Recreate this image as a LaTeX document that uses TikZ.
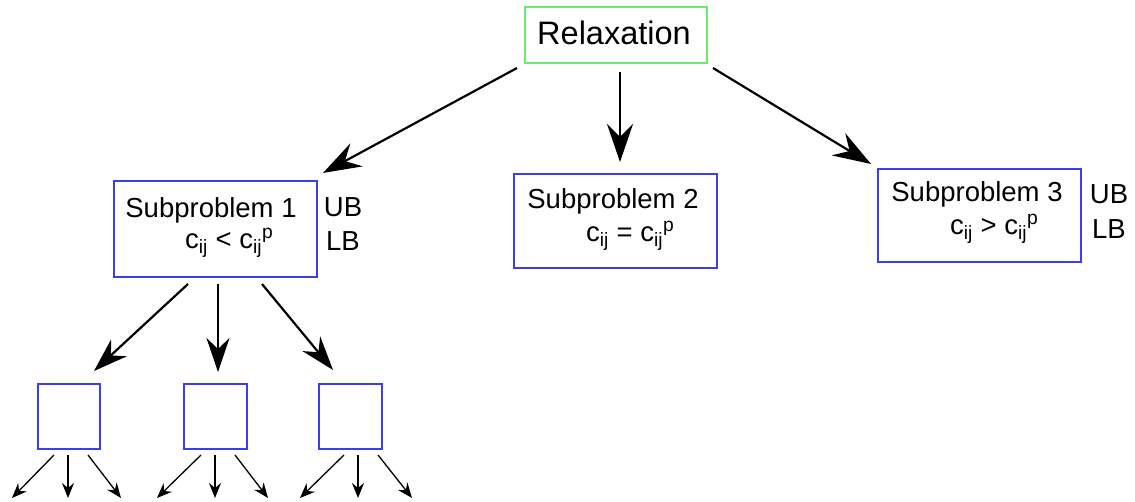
\documentclass[tikz,border=0pt]{standalone}
\usepackage{fontspec}
\setmainfont{Liberation Sans}
\usetikzlibrary{arrows.meta}
\definecolor{boxblue}{RGB}{60,60,245}
\definecolor{boxgreen}{RGB}{110,235,110}
\tikzset{
  bluebox/.style={draw=boxblue, line width=2pt, inner sep=0pt},
  smallbox/.style={draw=boxblue, line width=2.6pt, inner sep=0pt},
  greenbox/.style={draw=boxgreen, line width=1.6pt, inner sep=0pt},
  bigarrow/.style={line width=2.2pt, -{Stealth[length=38pt,width=26pt,inset=13pt]}},
  midarrow/.style={line width=2.2pt, -{Stealth[length=34pt,width=23pt,inset=11pt]}},
  smallarrow/.style={line width=1.3pt, -{Stealth[length=15pt,width=12pt,inset=5pt]}},
  lbl/.style={inner sep=0pt, font=\fontsize{27.5}{30}\selectfont},
}
\begin{document}
\begin{tikzpicture}[x=1pt,y=-1pt]
\useasboundingbox (0,0) rectangle (1135,502);
% boxes
\node[greenbox, minimum width=182pt, minimum height=56pt] (relax) at (616,35) {};
\node[bluebox, minimum width=203pt, minimum height=96pt] (s1) at (215.5,229) {};
\node[bluebox, minimum width=203pt, minimum height=94pt] (s2) at (615.5,221) {};
\node[bluebox, minimum width=203pt, minimum height=93pt] (s3) at (979.5,215.5) {};
\node[smallbox, minimum width=62pt, minimum height=65pt] (b1) at (69,416.5) {};
\node[smallbox, minimum width=63pt, minimum height=65pt] (b2) at (215.5,416.5) {};
\node[smallbox, minimum width=63pt, minimum height=65pt] (b3) at (350.5,416.5) {};
% texts
\node[lbl, font=\fontsize{32.5}{36}\selectfont] (trelax) at (614,33) {Relaxation};
\node[lbl] (ts1) at (211,210) {Subproblem 1};
\node[lbl, anchor=west] (cs1) at (185,243) {c\textsubscript{ij} < c\textsubscript{ij}\textsuperscript{p}};
\node[lbl] (ub1) at (343,207) {UB};
\node[lbl] (lb1) at (343,241) {LB};
\node[lbl] (ts2) at (613,201) {Subproblem 2};
\node[lbl, anchor=west] (cs2) at (586,236) {c\textsubscript{ij} = c\textsubscript{ij}\textsuperscript{p}};
\node[lbl] (ts3) at (977,194) {Subproblem 3};
\node[lbl, anchor=west] (cs3) at (950,229) {c\textsubscript{ij} > c\textsubscript{ij}\textsuperscript{p}};
\node[lbl] (ub3) at (1109,194) {UB};
\node[lbl] (lb3) at (1109,229) {LB};
% connector end points
\coordinate (r1) at (517,68);
\coordinate (r2) at (620,72);
\coordinate (r3) at (713,68);
\coordinate (e1) at (323,173);
\coordinate (e2) at (620,162);
\coordinate (e3) at (871,164);
\draw[bigarrow] (r1) -- (e1);
\draw[bigarrow] (r2) -- (e2);
\draw[bigarrow] (r3) -- (e3);
\coordinate (p1) at (188,284);
\coordinate (p2) at (218,284);
\coordinate (p3) at (262,284);
\coordinate (q1) at (94,371);
\coordinate (q2) at (218,372);
\coordinate (q3) at (333,370);
\draw[midarrow] (p1) -- (q1);
\draw[midarrow] (p2) -- (q2);
\draw[midarrow] (p3) -- (q3);
% small arrows
\foreach \n/\a/\b/\c in {b1/54/68/88, b2/201/215/235, b3/344/358/378}{
  \coordinate (\n l) at (\a,455);
  \coordinate (\n m) at (\b,455);
  \coordinate (\n r) at (\c,455);
}
\coordinate (b1L) at (12,498);
\coordinate (b1M) at (68,498);
\coordinate (b1R) at (121,498);
\coordinate (b2L) at (157,498);
\coordinate (b2M) at (215,498);
\coordinate (b2R) at (268,498);
\coordinate (b3L) at (300,498);
\coordinate (b3M) at (358,498);
\coordinate (b3R) at (412,498);
\foreach \n in {b1,b2,b3}{
  \draw[smallarrow] (\n l) -- (\n L);
  \draw[smallarrow] (\n m) -- (\n M);
  \draw[smallarrow] (\n r) -- (\n R);
}
\end{tikzpicture}
\end{document}
